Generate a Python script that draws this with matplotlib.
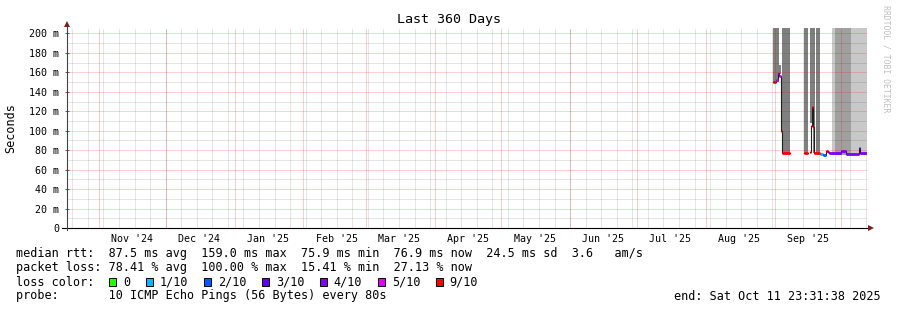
import datetime as dt
import matplotlib
matplotlib.use("Agg")
import matplotlib.pyplot as plt
import matplotlib.dates as mdates
from matplotlib.ticker import MultipleLocator, FuncFormatter, NullFormatter
from matplotlib.patches import Rectangle

W, H = 897, 310
plt.rcParams['font.family'] = 'DejaVu Sans Mono'

end_time = dt.datetime(2025, 10, 11, 23, 31, 38)
start_time = end_time - dt.timedelta(days=360)
# rrdtool's time grid sits slightly left of where this window would put it
grid_shift = dt.timedelta(hours=15)

# smoke blocks (ping spread), ms
smoke_start = ["2025-08-30 15:00", "2025-09-02 12:00", "2025-09-03 15:00", "2025-09-13 12:00",
               "2025-09-16 06:00", "2025-09-17 15:00", "2025-09-19 00:00", "2025-09-26 10:00",
               "2025-09-27 13:00", "2025-10-04 23:00"]
smoke_end = ["2025-09-02 12:00", "2025-09-03 08:00", "2025-09-07 07:00", "2025-09-15 14:00",
             "2025-09-17 15:00", "2025-09-18 14:00", "2025-09-21 00:00", "2025-09-27 13:00",
             "2025-10-04 23:00", "2025-10-11 23:00"]
smoke_lo = [150, 158, 77, 77, 108, 77, 77, 75, 75, 75]
smoke_hi = [250, 168, 250, 250, 250, 250, 250, 250, 250, 250]
smoke_shade = ["#7f7f7f", "#7f7f7f", "#7f7f7f", "#7f7f7f", "#7f7f7f", "#7f7f7f", "#7f7f7f",
               "#c8c8c8", "#a0a0a0", "#c8c8c8"]

# median rtt runs, ms, with loss class index
med_start = ["2025-08-30 15:00", "2025-08-31 20:00", "2025-09-01 21:00", "2025-09-02 12:00",
             "2025-09-03 06:00", "2025-09-03 16:00", "2025-09-13 12:00", "2025-09-16 06:00",
             "2025-09-16 18:00", "2025-09-17 04:00", "2025-09-17 15:00", "2025-09-18 02:00",
             "2025-09-21 00:00", "2025-09-22 06:00", "2025-09-23 12:00", "2025-09-24 06:00",
             "2025-09-25 00:00", "2025-09-30 06:00", "2025-10-02 12:00", "2025-10-08 08:00",
             "2025-10-09 00:00"]
med_end = ["2025-08-31 20:00", "2025-09-01 21:00", "2025-09-02 12:00", "2025-09-03 06:00",
           "2025-09-03 16:00", "2025-09-07 07:00", "2025-09-15 14:00", "2025-09-16 18:00",
           "2025-09-17 04:00", "2025-09-17 15:00", "2025-09-18 02:00", "2025-09-21 00:00",
           "2025-09-22 06:00", "2025-09-23 12:00", "2025-09-24 06:00", "2025-09-25 00:00",
           "2025-09-30 06:00", "2025-10-02 12:00", "2025-10-08 08:00", "2025-10-09 00:00",
           "2025-10-11 23:00"]
med_value = [150, 152, 159, 156, 100, 77, 77, 78, 105, 124, 104, 77,
             76, 75.5, 79.5, 78, 77, 79.5, 76.5, 82, 77]
med_loss = [6, 5, 5, 5, 6, 6, 6, 6, 6, 6, 6, 6,
            1, 2, 6, 3, 4, 4, 4, 3, 4]

loss_labels = ["0", "1/10", "2/10", "3/10", "4/10", "5/10", "9/10"]
loss_colors = ["#26ff00", "#00b8ff", "#0059ff", "#5e00ff", "#7e00ff", "#dd00ff", "#ff0000"]

rtt_avg, rtt_max, rtt_min, rtt_now, rtt_sd, rtt_ams = 87.5, 159.0, 75.9, 76.9, 24.5, 3.6
loss_avg, loss_max, loss_min, loss_now = 78.41, 100.00, 15.41, 27.13
probe_text = "10 ICMP Echo Pings (56 Bytes) every 80s"
end_text = "end: Sat Oct 11 23:31:38 2025"


def fx(x):
    return x / W


def fy(y):
    return 1 - y / H


def parse(ts):
    return mdates.date2num(dt.datetime.fromisoformat(ts) + grid_shift)


fig = plt.figure(figsize=(W / 100, H / 100), dpi=100)
fig.patch.set_facecolor("white")
rect = [fx(67), fy(228), 800 / W, 200 / H]
view = (start_time + grid_shift, end_time + grid_shift)
dots = (0, (1, 1))

# weekly grid on a background axes
wk = fig.add_axes(rect)
wk.set_xlim(*view)
wk.set_ylim(0, 1)
wk.xaxis.set_major_locator(mdates.WeekdayLocator(byweekday=mdates.SU))
wk.grid(True, axis="x", color="black", alpha=0.2, linestyle=dots, linewidth=0.72, snap=True)
wk.set_xticklabels([])
wk.set_yticks([])
wk.tick_params(length=0)
for s in wk.spines.values():
    s.set_visible(False)

ax = fig.add_axes(rect)
ax.patch.set_visible(False)
ax.set_xlim(*view)
ax.set_ylim(0, 205.6)
for s in ax.spines.values():
    s.set_visible(False)

# smoke
s0 = [parse(t) for t in smoke_start]
s1 = [parse(t) for t in smoke_end]
ax.bar(s0, [h - l for h, l in zip(smoke_hi, smoke_lo)], width=[b - a for a, b in zip(s0, s1)],
       bottom=smoke_lo, align="edge", color=smoke_shade, linewidth=0, zorder=1)

# grid (dotted, rrdtool style); alpha must be passed separately for gridlines
ax.yaxis.set_major_locator(MultipleLocator(20))
ax.yaxis.set_minor_locator(MultipleLocator(10))
ax.yaxis.set_major_formatter(FuncFormatter(lambda v, p: "0" if v == 0 else f"{v:.0f} m"))
# month starts carry the red lines, mid-month carries the labels
ax.xaxis.set_major_locator(mdates.MonthLocator(bymonthday=1))
ax.xaxis.set_major_formatter(NullFormatter())
ax.xaxis.set_minor_locator(mdates.MonthLocator(bymonthday=16))
ax.xaxis.set_minor_formatter(mdates.DateFormatter("%b '%y"))
ax.grid(True, axis="y", which="major", color="red", alpha=0.35, linestyle=dots, linewidth=0.72,
        zorder=2, snap=True)
ax.grid(True, axis="y", which="minor", color="black", alpha=0.2, linestyle=dots, linewidth=0.72,
        zorder=2, snap=True)
ax.grid(True, axis="x", which="major", color="red", alpha=0.4, linestyle=dots, linewidth=0.72,
        zorder=2, snap=True)
ax.set_axisbelow(False)

ax.tick_params(axis="x", which="both", length=0, pad=4, labelsize=7.2)
ax.tick_params(axis="y", which="major", length=3, direction="inout", width=0.7, color="#555555",
               pad=4, labelsize=7.2)
ax.tick_params(axis="y", which="minor", length=0)

# median line
m0 = [parse(t) for t in med_start]
m1 = [parse(t) for t in med_end]
xs, ys = [], []
for i in range(len(m0)):
    if i > 0 and abs(m0[i] - m1[i - 1]) > 1e-6:
        xs.append(m0[i])
        ys.append(float("nan"))
    xs += [m0[i], m1[i]]
    ys += [med_value[i], med_value[i]]
ax.plot(xs, ys, color="#202020", linewidth=0.8, zorder=3)
ax.hlines(med_value, m0, m1, colors=[loss_colors[k] for k in med_loss], linewidth=2.0, zorder=4)

# axes lines and arrows
arrow = "#7f1f1f"
ax.plot([-5 / 800, 802 / 800], [0, 0], transform=ax.transAxes, color="black", lw=0.8, clip_on=False, zorder=5)
ax.plot([0, 0], [-2 / 200, 202 / 200], transform=ax.transAxes, color="#444444", lw=0.8, clip_on=False, zorder=5)
ax.plot([803.5 / 800], [0], transform=ax.transAxes, marker=">", ms=4, color=arrow, mew=0, clip_on=False, zorder=6)
ax.plot([0], [204 / 200], transform=ax.transAxes, marker="^", ms=4, color=arrow, mew=0, clip_on=False, zorder=6)

# texts
fig.text(0.5, fy(19), "Last 360 Days", ha="center", va="center", size=9.6)
fig.text(fx(11), fy(128), "Seconds", rotation=90, ha="center", va="center", size=8.5)
fig.text(fx(886), fy(5), "RRDTOOL / TOBI OETIKER", rotation=270, ha="center", va="top",
         size=5.9, color="#c0c0c0")

legend_size = 8.5
line1 = (f"median rtt:  {rtt_avg:.1f} ms avg  {rtt_max:.1f} ms max  {rtt_min:.1f} ms min  "
         f"{rtt_now:.1f} ms now  {rtt_sd:.1f} ms sd  {rtt_ams:.1f}   am/s")
line2 = (f"packet loss: {loss_avg:.2f} % avg  {loss_max:.2f} % max  {loss_min:.2f} % min  "
         f"{loss_now:.2f} % now")
fig.text(fx(16), fy(254), line1, va="center", size=legend_size)
fig.text(fx(16), fy(268), line2, va="center", size=legend_size)
fig.text(fx(16), fy(282), "loss color:", va="center", size=legend_size)
fig.text(fx(16), fy(296), "probe:       " + probe_text, va="center", size=legend_size)
fig.text(fx(881), fy(296), end_text, ha="right", va="center", size=legend_size)

char_w = 7.1
bx = 109
for lab, col in zip(loss_labels, loss_colors):
    fig.add_artist(Rectangle((fx(bx), fy(286)), 7 / W, 8 / H, transform=fig.transFigure,
                             facecolor=col, edgecolor="black", linewidth=0.7))
    fig.text(fx(bx + 14), fy(282), lab, va="center", size=legend_size)
    bx = bx + 14 + len(lab) * char_w + 15.6

fig.savefig("out.png", dpi=100)
